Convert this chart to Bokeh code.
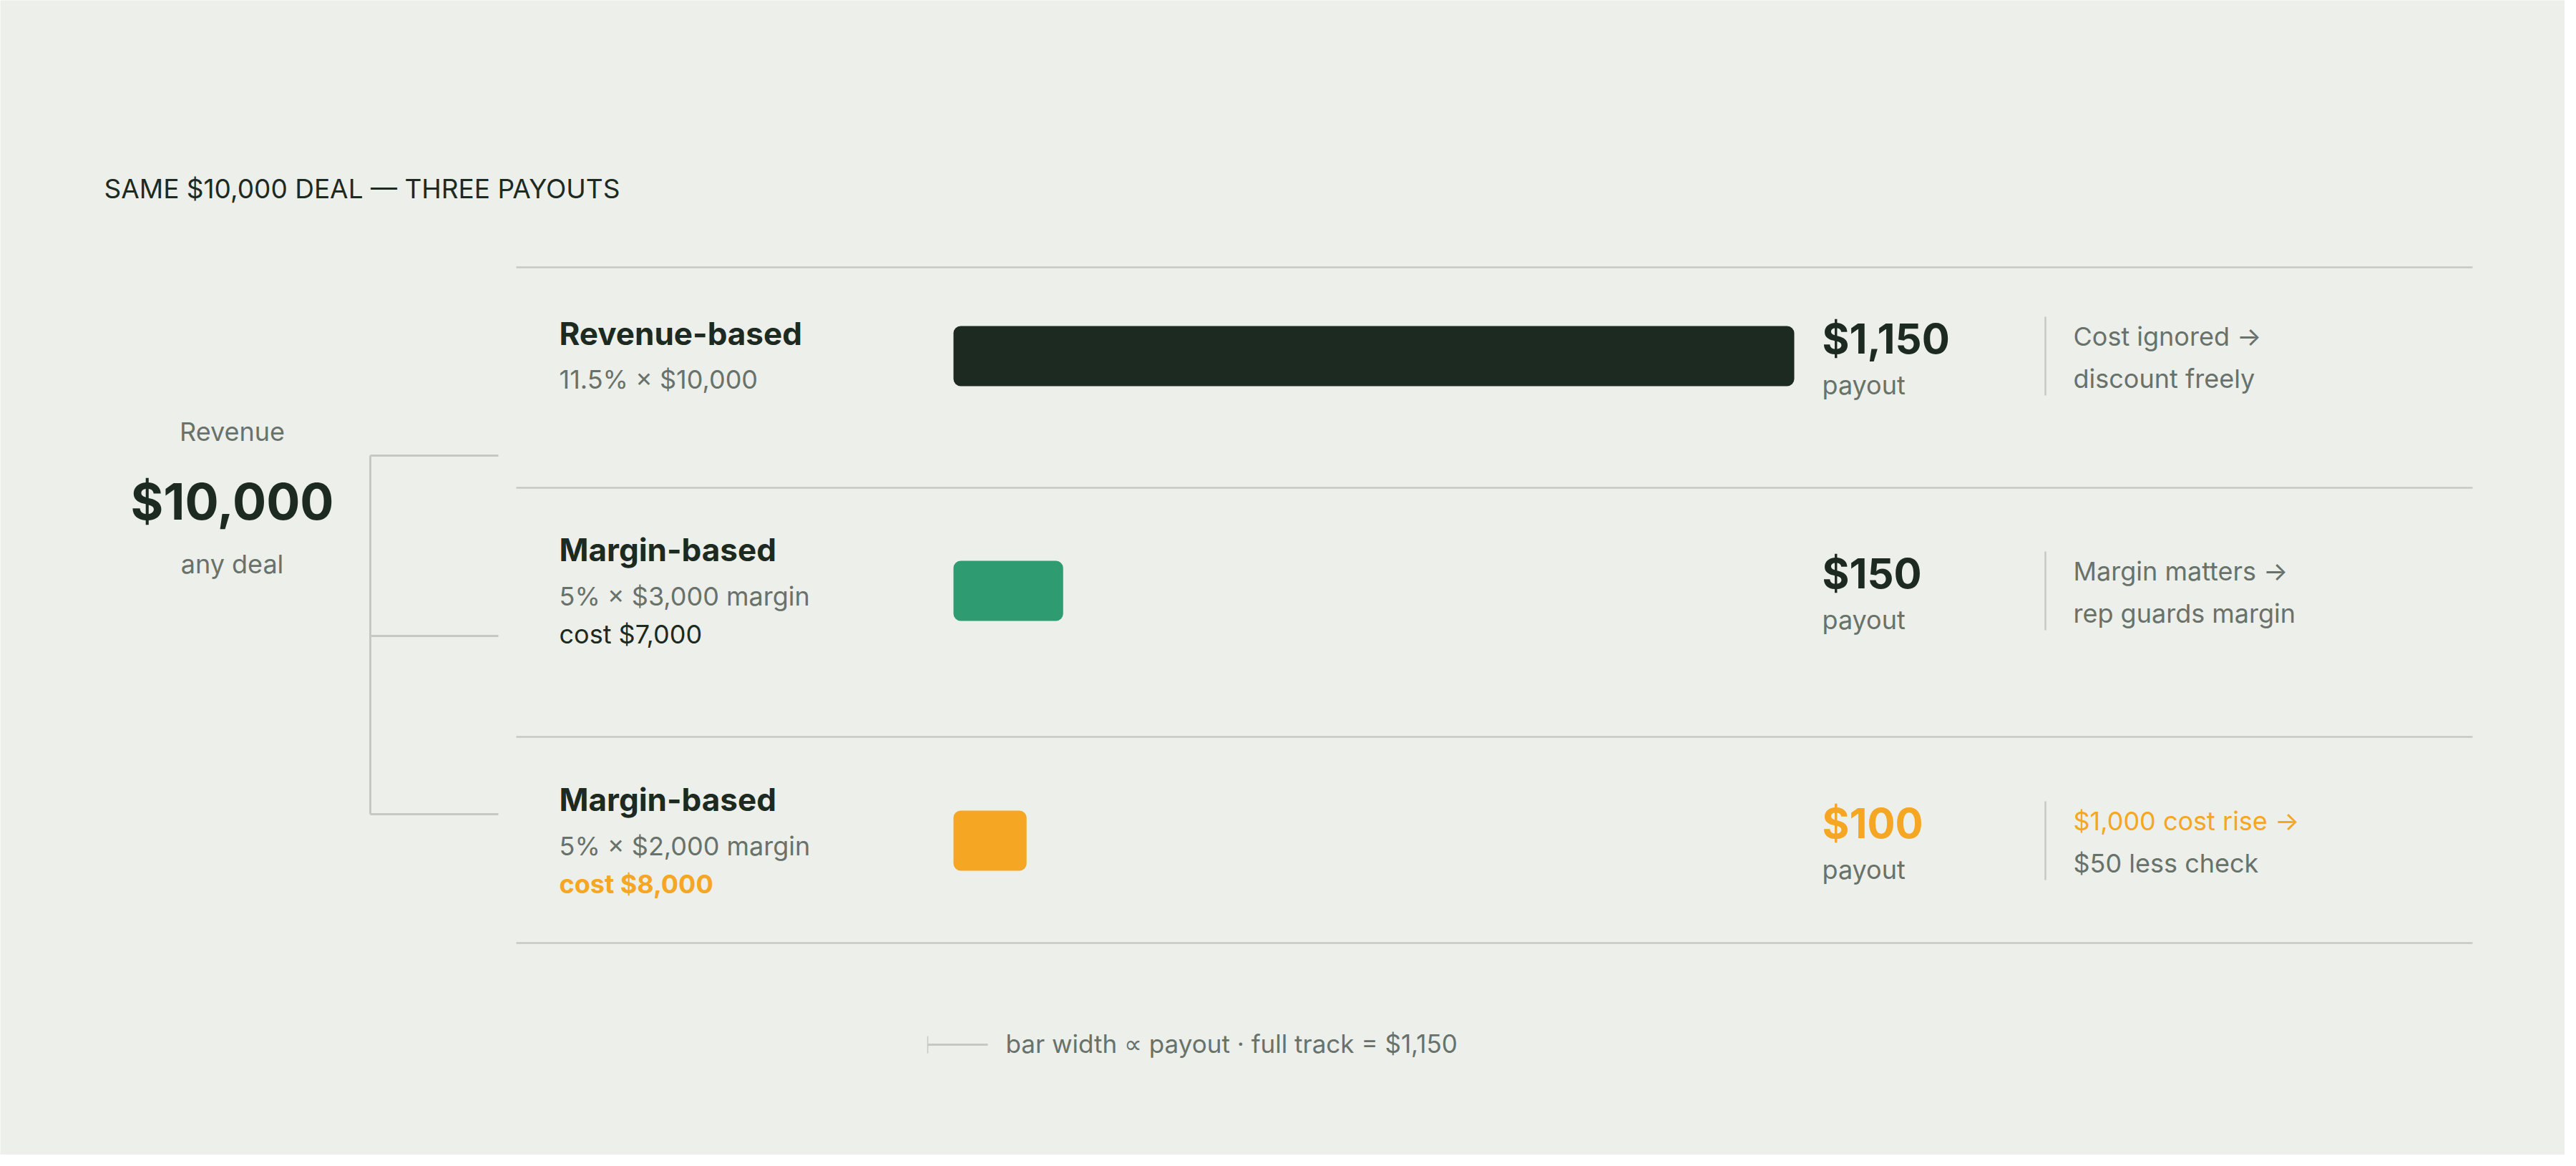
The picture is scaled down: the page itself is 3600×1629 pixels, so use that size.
from bokeh.plotting import figure
from bokeh.models import Range1d, ColumnDataSource
from bokeh.core.properties import value
from bokeh.embed import file_html
from bokeh.resources import INLINE

# ---------------- data ----------------
title = "SAME $10,000 DEAL — THREE PAYOUTS"
deal_top = "Revenue"
deal_value = "$10,000"
deal_bottom = "any deal"
plans = ["Revenue-based", "Margin-based", "Margin-based"]
formulas = ["11.5% × $10,000", "5% × $3,000 margin", "5% × $2,000 margin"]
costs = ["", "cost $7,000", "cost $8,000"]
payouts = [1150, 150, 100]
payout_labels = ["$1,150", "$150", "$100"]
payout_unit = "payout"
notes_1 = ["Cost ignored →", "Margin matters →", "$1,000 cost rise →"]
notes_2 = ["discount freely", "rep guards margin", "$50 less check"]
full_track = 1150
footer = "bar width ∝ payout · full track = $1,150"

# ---------------- style ----------------
BG = "#edefea"
DARK = "#1c2a21"
GREY = "#68726a"
GREEN = "#2e9b70"
ORANGE = "#f5a623"
RULE = "#c6c9c3"
FONT = value("Inter")
bar_colors = [DARK, GREEN, ORANGE]
value_colors = [DARK, DARK, ORANGE]
note1_colors = [GREY, GREY, ORANGE]
cost_colors = [DARK, DARK, ORANGE]
cost_styles = ["normal", "normal", "bold"]

W, H = 3584, 1613
p = figure(width=W, height=H, x_range=Range1d(0, W), y_range=Range1d(H, 0),
           output_backend="svg", toolbar_location=None, min_border=0,
           x_axis_type=None, y_axis_type=None)
p.grid.visible = False
p.outline_line_color = None
p.background_fill_color = BG
p.border_fill_color = BG


def mid(baseline, size):
    """vertical centre of the em box for a given alphabetic baseline"""
    return baseline - 0.36 * size


def txt(x, y, t, size, **kw):
    kw.setdefault("text_color", GREY)
    p.text(x=x, y=[mid(b, size) for b in y], text=t, text_font=FONT,
           text_font_size=f"{size}px", text_baseline="middle", **kw)


# layout (page pixels)
row_c = [497, 825, 1174]
track_x0, track_x1 = 1332, 2507
label_x = 781
value_x = 2546
note_x = 2897
sep_x = 2858
rules_y = [373, 681, 1029, 1317]

# payout scale mapped onto the track
k = full_track / (track_x1 - track_x0)
p.extra_x_ranges = {"pay": Range1d(start=(0 - track_x0) * k, end=(W - track_x0) * k)}

# title
txt([145], [276], [title], 37, text_color=DARK, text_align="left")

# left panel
txt([324], [615], [deal_top], 36, text_align="center")
txt([324], [725], [deal_value], 70, text_font_style="bold", text_color=DARK, text_align="center")
txt([324], [800], [deal_bottom], 36, text_align="center")

# bracket
p.segment(x0=[517], y0=[636], x1=[517], y1=[1137], line_color=RULE, line_width=3)
p.segment(x0=[517, 517, 517], y0=[636, 888, 1137], x1=[696, 696, 696], y1=[636, 888, 1137],
          line_color=RULE, line_width=3)

# row rules
p.segment(x0=[721] * 4, y0=rules_y, x1=[3455] * 4, y1=rules_y, line_color=RULE, line_width=2.5)

# row labels
n_lines = [2 if c == "" else 3 for c in costs]
title_y = [c - 16 if n == 2 else c - 42 for c, n in zip(row_c, n_lines)]
formula_y = [c + 45 if n == 2 else c + 20 for c, n in zip(row_c, n_lines)]
txt([label_x] * 3, title_y, plans, 44, text_font_style="bold", text_color=DARK)
txt([label_x] * 3, formula_y, formulas, 36)
cs = ColumnDataSource(dict(x=[label_x] * 3, y=[mid(c + 73, 36) for c in row_c], t=costs,
                           col=cost_colors, st=cost_styles))
p.text(x="x", y="y", text="t", source=cs, text_font=FONT, text_font_size="36px",
       text_color="col", text_font_style="st", text_baseline="middle")

# bars
bs = ColumnDataSource(dict(y=row_c, right=payouts, col=bar_colors))
p.hbar(y="y", left=0, right="right", height=84, source=bs, x_range_name="pay",
       fill_color="col", line_color=None, border_radius=10)

# values
vs = ColumnDataSource(dict(x=[value_x] * 3, y=[mid(c - 4, 58) for c in row_c], t=payout_labels,
                           col=value_colors))
p.text(x="x", y="y", text="t", source=vs, text_font=FONT, text_font_size="58px",
       text_font_style="bold", text_color="col", text_baseline="middle")
txt([value_x] * 3, [c + 53 for c in row_c], [payout_unit] * 3, 36)

# note separators
p.segment(x0=[sep_x] * 3, y0=[c - 55 for c in row_c], x1=[sep_x] * 3, y1=[c + 55 for c in row_c],
          line_color=RULE, line_width=2.5)

# notes
ns = ColumnDataSource(dict(x=[note_x] * 3, y=[mid(c - 15, 36) for c in row_c], t=notes_1,
                           col=note1_colors))
p.text(x="x", y="y", text="t", source=ns, text_font=FONT, text_font_size="36px",
       text_color="col", text_baseline="middle")
txt([note_x] * 3, [c + 44 for c in row_c], notes_2, 36)

# footer key
p.segment(x0=[1296], y0=[1459], x1=[1380], y1=[1459], line_color=RULE, line_width=3)
p.segment(x0=[1296], y0=[1447], x1=[1296], y1=[1471], line_color=RULE, line_width=1.5)
txt([1405], [1470], [footer], 35)

open("out.html", "w").write(file_html(p, INLINE))
